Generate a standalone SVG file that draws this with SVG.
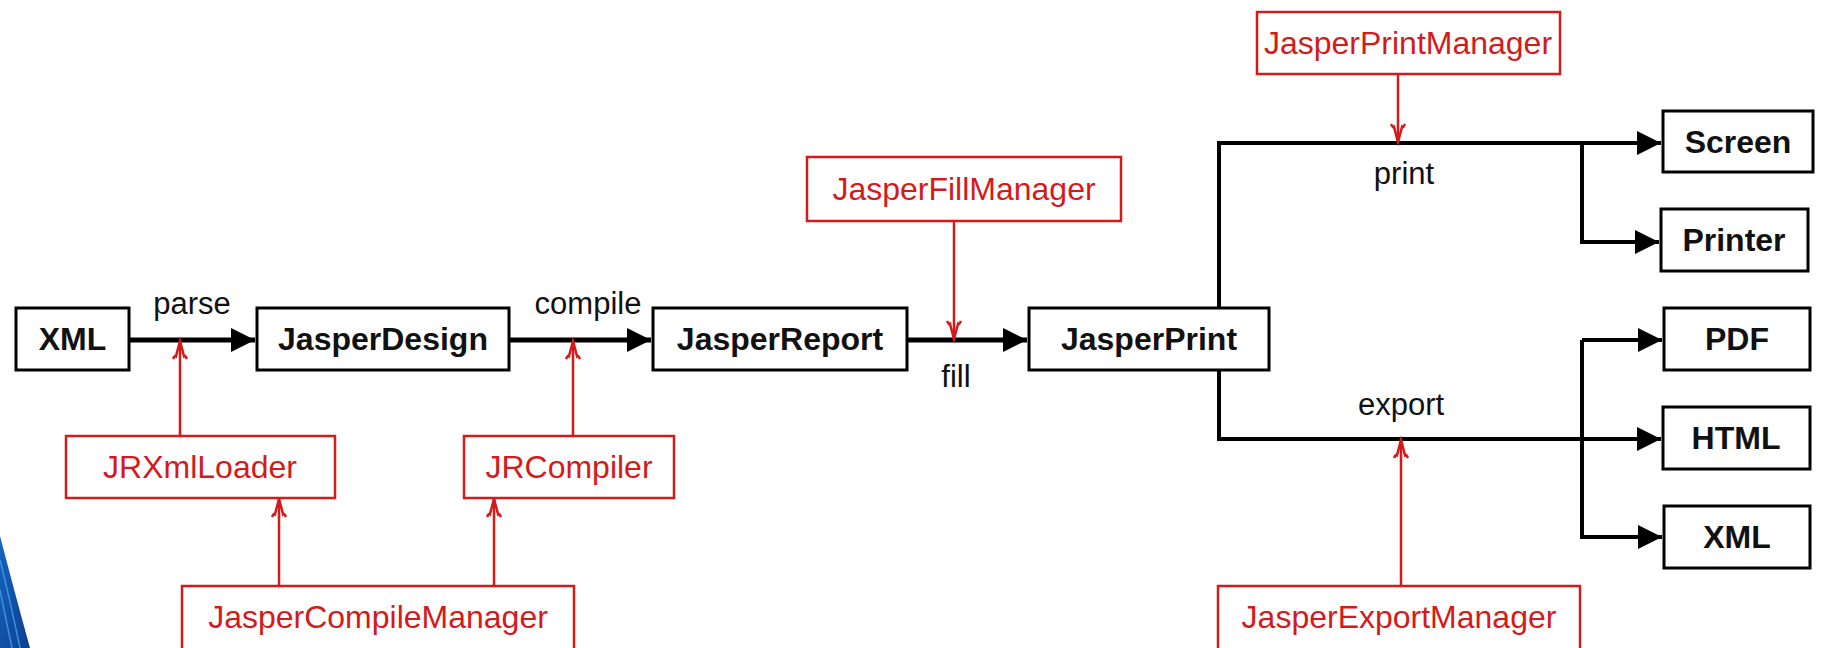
<svg xmlns="http://www.w3.org/2000/svg" width="1825" height="648" viewBox="0 0 1825 648">
<style>
.bx{fill:#fff;stroke:#000;stroke-width:3}
.rb{fill:#fff;stroke:#d41a1a;stroke-width:2.5}
.bt{font-family:"Liberation Sans",Arial,sans-serif;font-size:32px;font-weight:bold;fill:#111;text-anchor:middle}
.rt{font-family:"Liberation Sans",Arial,sans-serif;font-size:32px;fill:#d41a1a;text-anchor:middle}
.lt{font-family:"Liberation Sans",Arial,sans-serif;font-size:31px;fill:#111;text-anchor:middle}
.main{fill:none;stroke:#000;stroke-width:5}
.thin{fill:none;stroke:#000;stroke-width:4}
.red{fill:none;stroke:#d41a1a;stroke-width:2.5}
</style>
<defs>
<marker id="ah" markerUnits="userSpaceOnUse" markerWidth="26" markerHeight="26" refX="24" refY="12" orient="auto" viewBox="0 0 26 26">
<path d="M0,0 L24,12 L0,24 z" fill="#000"/>
</marker>
<marker id="ra" markerUnits="userSpaceOnUse" markerWidth="24" markerHeight="20" refX="20" refY="10" orient="auto" viewBox="0 0 24 20">
<path d="M2,3 Q6,5 5,6 L20,10 L5,14 Q6,15 2,17" fill="none" stroke="#d41a1a" stroke-width="2.5"/>
</marker>
<linearGradient id="bg" x1="0" y1="0" x2="1" y2="1">
<stop offset="0" stop-color="#1565c0"/>
<stop offset="1" stop-color="#0d3f8f"/>
</linearGradient>
</defs>
<rect width="1825" height="648" fill="#fff"/>
<g id="swoosh">
<path d="M0,536 Q14,590 30,648 L0,648 Z" fill="url(#bg)"/>
<path d="M0,560 Q10,600 20,648 M0,590 Q6,620 12,648" fill="none" stroke="#3d8fe0" stroke-width="1.5"/>
</g>
<g id="connectors">
<path class="main" d="M129,340 H255" marker-end="url(#ah)"/>
<path class="main" d="M509,340 H651" marker-end="url(#ah)"/>
<path class="main" d="M907,340 H1027" marker-end="url(#ah)"/>
<path class="thin" d="M1219,307 V143 H1661" marker-end="url(#ah)"/>
<path class="thin" d="M1582,143 V242 H1659" marker-end="url(#ah)"/>
<path class="thin" d="M1219,369 V439 H1661" marker-end="url(#ah)"/>
<path class="thin" d="M1582,340 V537 H1662" marker-end="url(#ah)"/>
<path class="thin" d="M1582,340 H1662" marker-end="url(#ah)"/>
<path class="red" d="M180,436 V341" marker-end="url(#ra)"/>
<path class="red" d="M573,436 V341" marker-end="url(#ra)"/>
<path class="red" d="M954,221 V339" marker-end="url(#ra)"/>
<path class="red" d="M1398,74 V142" marker-end="url(#ra)"/>
<path class="red" d="M1401,586 V440" marker-end="url(#ra)"/>
<path class="red" d="M279,586 V499" marker-end="url(#ra)"/>
<path class="red" d="M494,586 V499" marker-end="url(#ra)"/>
<text class="lt" x="192" y="314">parse</text>
<text class="lt" x="588" y="314">compile</text>
<text class="lt" x="956" y="387">fill</text>
<text class="lt" x="1404" y="184">print</text>
<text class="lt" x="1401" y="415">export</text>
</g>
<g id="xml"><rect class="bx" x="16" y="308" width="113" height="62"/><text class="bt" x="72.5" y="350">XML</text></g>
<g id="jasperdesign"><rect class="bx" x="257" y="308" width="252" height="62"/><text class="bt" x="383" y="350">JasperDesign</text></g>
<g id="jasperreport"><rect class="bx" x="653" y="308" width="254" height="62"/><text class="bt" x="780" y="350">JasperReport</text></g>
<g id="jasperprint"><rect class="bx" x="1029" y="308" width="240" height="62"/><text class="bt" x="1149" y="350">JasperPrint</text></g>
<g id="jasperfillmanager"><rect class="rb" x="807" y="157" width="314" height="64"/><text class="rt" x="964" y="200">JasperFillManager</text></g>
<g id="jasperprintmanager"><rect class="rb" x="1257" y="12" width="303" height="62"/><text class="rt" x="1408" y="54">JasperPrintManager</text></g>
<g id="screen"><rect class="bx" x="1663" y="111" width="150" height="61"/><text class="bt" x="1738" y="153">Screen</text></g>
<g id="printer"><rect class="bx" x="1661" y="209" width="147" height="62"/><text class="bt" x="1734" y="251">Printer</text></g>
<g id="pdf"><rect class="bx" x="1664" y="308" width="146" height="62"/><text class="bt" x="1737" y="350">PDF</text></g>
<g id="html"><rect class="bx" x="1663" y="407" width="147" height="62"/><text class="bt" x="1736" y="449">HTML</text></g>
<g id="xmlout"><rect class="bx" x="1664" y="506" width="146" height="62"/><text class="bt" x="1737" y="548">XML</text></g>
<g id="jrxmlloader"><rect class="rb" x="66" y="436" width="269" height="62"/><text class="rt" x="200" y="478">JRXmlLoader</text></g>
<g id="jrcompiler"><rect class="rb" x="464" y="436" width="210" height="62"/><text class="rt" x="569" y="478">JRCompiler</text></g>
<g id="jaspercompilemanager"><rect class="rb" x="182" y="586" width="392" height="80"/><text class="rt" x="378" y="628">JasperCompileManager</text></g>
<g id="jasperexportmanager"><rect class="rb" x="1218" y="586" width="362" height="80"/><text class="rt" x="1399" y="628">JasperExportManager</text></g>
</svg>
